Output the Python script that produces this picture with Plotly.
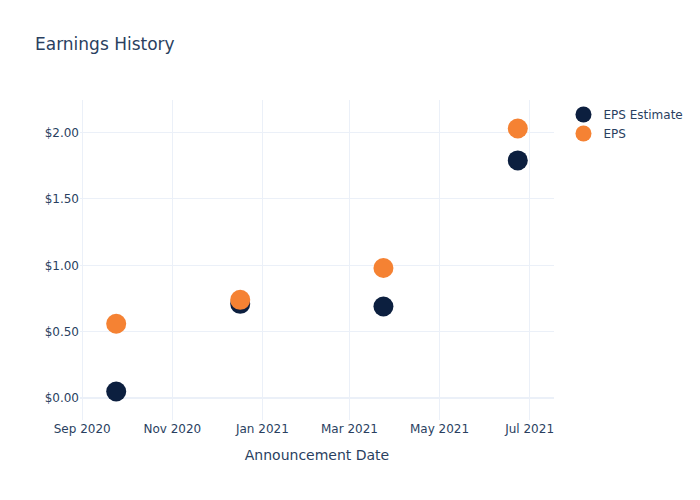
import plotly.graph_objects as go

dates = ["2020-09-24", "2020-12-17", "2021-03-24", "2021-06-23"]
eps_estimate = [0.05, 0.71, 0.69, 1.79]
eps_actual = [0.56, 0.74, 0.98, 2.03]

fig = go.Figure()
fig.add_trace(go.Scatter(x=dates, y=eps_estimate, mode="markers", name="EPS Estimate",
                         marker=dict(color="#0c1f3f", size=20)))
fig.add_trace(go.Scatter(x=dates, y=eps_actual, mode="markers", name="EPS",
                         marker=dict(color="#f58233", size=20)))
fig.update_layout(
    template="plotly_white",
    width=700, height=500,
    font=dict(family="DejaVu Sans"),
    title=dict(text="Earnings History"),
    xaxis=dict(title=dict(text="Announcement Date")),
    yaxis=dict(tickprefix="$", tickformat=".2f"),
)
fig.write_html("out.html")
